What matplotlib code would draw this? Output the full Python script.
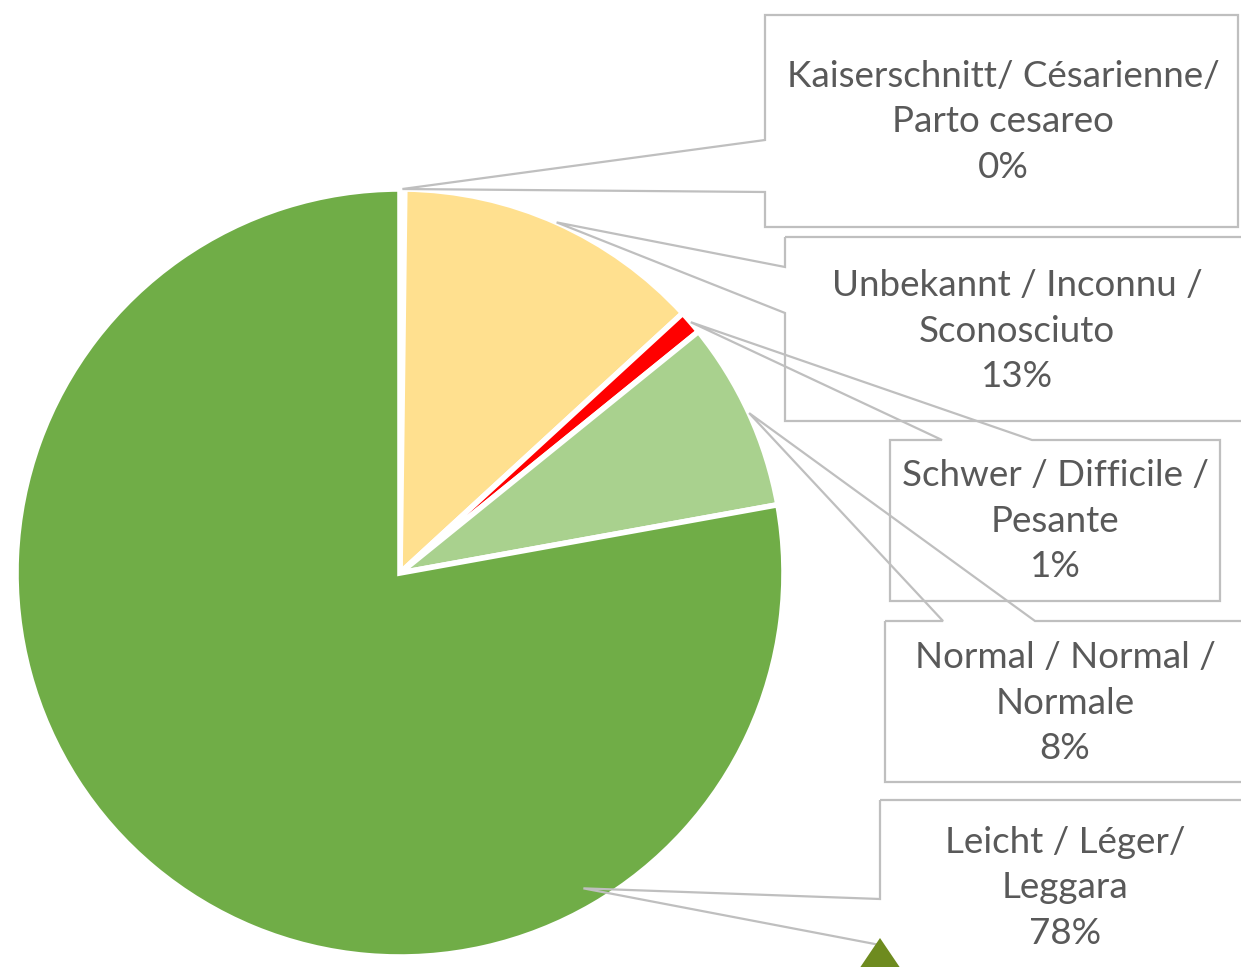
import numpy as np
import matplotlib
matplotlib.use("Agg")
import matplotlib.pyplot as plt
from matplotlib.patches import Polygon

# ---- data ----
categories = [
    "Kaiserschnitt/ Césarienne/\nParto cesareo",
    "Unbekannt / Inconnu /\nSconosciuto",
    "Schwer / Difficile /\nPesante",
    "Normal / Normal /\nNormale",
    "Leicht / Léger/\nLeggara",
]
values = [0.2, 13, 1, 8, 78]
colors = ["#70AD47", "#FFE08F", "#FF0000", "#A9D18E", "#70AD47"]

W, H = 1241, 967
fig = plt.figure(figsize=(W / 100, H / 100), dpi=100)
ax = fig.add_axes([0, 0, 1, 1])
ax.set_xlim(0, W)
ax.set_ylim(0, H)
ax.set_aspect("equal")
ax.axis("off")

def P(x, y):
    return (x, H - y)

cx, cy = P(400, 573)
R = 384
wedges, _ = ax.pie(values, colors=colors, startangle=90, counterclock=False,
                   center=(cx, cy), radius=R, frame=True,
                   wedgeprops=dict(edgecolor="white", linewidth=4))
ax.set_xlim(0, W)
ax.set_ylim(0, H)
ax.axis("off")

total = sum(values)
pct = [f"{round(v / total * 100):d}%" for v in values]

# anchor positions along each wedge (fraction of wedge angle, radius factor)
anchor_frac = [0.5, 0.5, 0.5, 0.5, 0.25]
anchor_rad = [1.0, 1.0, 1.0, 1.0, 0.95]
anchors = []
for w, f, rf in zip(wedges, anchor_frac, anchor_rad):
    t1, t2 = w.theta1, w.theta2
    a = np.deg2rad(t2 - f * (t2 - t1))
    anchors.append((cx + rf * R * np.cos(a), cy + rf * R * np.sin(a)))

# callout layout (pixel coordinates): box rect, side of pointer, pointer base
callouts = [
    ((765, 15, 1238, 227), "left", (140, 192)),
    ((785, 237, 1250, 421), "left", (267, 313)),
    ((890, 440, 1220, 601), "top", (942, 1032)),
    ((885, 621, 1250, 782), "top", (943, 1035)),
    ((880, 800, 1250, 1000), "left", (899, 945)),
]
text_centers = [(1003, 122), (1017, 331), (1055, 521), (1065, 703), (1065, 888)]

edge_c = "#BFBFBF"
for (box, side, base), anc, tc, lab, p in zip(callouts, anchors, text_centers, categories, pct):
    x0, y0, x1, y1 = box
    b0, b1 = base
    if side == "left":
        pts = [P(x0, y0), P(x1, y0), P(x1, y1), P(x0, y1), P(x0, b1), anc, P(x0, b0)]
    else:
        pts = [P(x0, y0), P(b0, y0), anc, P(b1, y0), P(x1, y0), P(x1, y1), P(x0, y1)]
    poly = Polygon(pts, closed=True, fill=False, edgecolor=edge_c, linewidth=1.6,
                   joinstyle="miter", zorder=3)
    ax.add_patch(poly)
    ax.text(*P(*tc), f"{lab}\n{p}", ha="center", va="center", fontsize=26.5,
            family="Lato", color="#595959", linespacing=1.48, zorder=4)

# small olive marker at the bottom edge
tri = Polygon([P(880, 938), P(905, 975), P(855, 975)], closed=True,
              facecolor="#6E8B1F", edgecolor="none", zorder=5)
ax.add_patch(tri)

fig.savefig("out.png", dpi=100, facecolor="white")
